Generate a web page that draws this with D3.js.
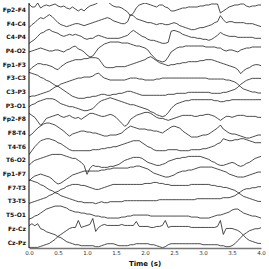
<!DOCTYPE html>
<html>
<head>
<meta charset="utf-8">
<script src="https://cdn.jsdelivr.net/npm/d3@7"></script>
<style>
  body { margin: 0; background: #fff; }
  svg { display: block; }
</style>
</head>
<body>
<div id="chart"></div>
<script>
// channel names, top to bottom
const channels = ["Fp2-F4", "F4-C4", "C4-P4", "P4-O2", "Fp1-F3", "F3-C3", "C3-P3", "P3-O1",
    "Fp2-F8", "F8-T4", "T4-T6", "T6-O2", "Fp1-F7", "F7-T3", "T3-T5", "T5-O1", "Fz-Cz", "Cz-Pz"];

// sample times (s), every 0.05 s
const times = d3.range(0, 81).map(i => +(i * 0.05).toFixed(2));

const xTicks = [0, 0.5, 1, 1.5, 2, 2.5, 3, 3.5, 4];

// amplitudes, positive = up
const fp2f4 = [6,3,3,7,2,4,5,4,5,6, 4,3,4,2,1,3,1,-1,1,-1, 2,4,5,6,8,11,12,9,6,4, 3,3,2,0,-2,-6,-3,2,5,6,
    7,6,5,4,3,5,5,3,2,-1, -1,0,1,2,2,3,3,3,3,4, 4,5,5,6,6,6,-3,-1,1,3, 4,5,5,6,6,4,3,4,4,5, 5];
const f4c4 = [-4,-1,1,4,6,5,7,9,7,4, 1,-1,-2,-3,-2,-1,0,0,-1,-2, -1,0,1,2,3,4,5,6,5,3, 2,1,0,0,2,9,8,5,4,3,
    2,1,1,0,-1,0,0,-1,-1,0, 1,0,-2,-3,-4,-5,-6,-6,-5,-4, -4,-3,-2,-1,1,2,8,4,1,2, 2,1,1,1,1,0,0,0,-1,-2, -3];
const c4p4 = [-6,-4,-2,1,4,5,7,8,6,5, 4,2,1,2,3,2,3,2,1,-1, -2,-1,-1,1,2,1,0,-1,-1,-1, -1,-1,0,1,2,5,7,5,3,1,
    0,-2,-3,-3,-4,-5,-6,-6,-5,6, 7,6,5,3,2,1,0,0,-1,-1, -2,-2,-3,-2,0,2,5,3,2,1, 1,1,0,0,0,0,0,0,-1,-1, -1];
const p4o2 = [-1,0,1,2,3,2,1,0,0,1, 1,0,-1,1,2,4,5,2,1,-1, -4,-6,-5,-1,3,5,7,8,9,9, 9,9,8,8,8,7,6,5,5,4,
    3,1,-3,-6,-9,-10,-11,-10,-6,-1, 1,3,4,4,5,5,5,5,5,5, 5,4,4,4,4,3,3,1,0,1, 1,0,-1,1,2,3,3,4,4,4, 4];
const fp1f3 = [-6,-3,-1,1,1,0,0,-1,-2,-4, -5,-2,0,2,3,4,5,5,5,6, 6,7,7,7,6,2,-2,-3,-3,-3, -2,-2,-2,-2,-1,0,1,2,3,4,
    5,7,8,6,4,2,1,0,-1,0, 0,1,1,2,2,3,3,3,3,4, 4,5,5,5,4,3,2,1,0,-1, -2,-3,-5,-9,-6,-4,-3,-1,0,0, -1];
const f3c3 = [6,5,4,3,1,0,-2,-3,-5,-7, -8,-10,-12,-14,-16,-18,-19,-20,-20,-20, -19,-19,-18,-18,-17,-16,-16,-17,-17,-16,
    -16,-15,-15,-14,-13,-13,-14,-15,-16,-17, -17,-17,-17,-17,-17,-17,-17,-17,-16,-16, -16,-15,-15,-15,-15,-14,-14,-14,-14,-14,
    -14,-14,-14,-15,-15,-15,-15,-14,-14,-13, -12,-11,-9,-6,-4,-2,-1,0,0,0, 0];
const c3p3 = [-5,-4,-4,-3,-2,-1,0,1,3,5, 6,8,9,10,11,12,13,14,14,15, 15,15,16,18,19,16,14,13,12,12, 12,12,12,12,13,14,14,14,13,13,
    12,12,12,12,13,13,14,14,14,14, 14,14,14,14,14,14,14,14,14,14, 14,14,13,13,13,13,13,13,12,12, 11,10,8,5,3,2,1,0,0,-1, -1];
const p3o1 = [-1,1,2,4,5,6,7,7,7,6, 4,2,1,0,-1,-1,-2,-3,-4,-5, -5,-4,-3,0,3,5,6,7,8,7, 6,5,4,3,2,1,1,0,-1,-2,
    -3,-4,-6,-7,-9,-10,-11,-10,-7,-3, 0,2,3,4,5,5,6,6,6,6, 6,6,6,6,5,5,4,4,5,5, 6,6,6,6,6,6,6,6,6,6, 6];
const fp2f8 = [6,4,2,-2,-6,-3,1,2,3,4, 5,3,2,3,4,2,1,2,0,2, 4,6,6,5,4,3,3,4,5,4, 2,-1,-4,-7,-5,0,2,4,5,6,
    7,7,6,4,2,1,1,0,-1,0, 1,2,3,4,4,4,4,3,3,4, 4,5,5,4,3,1,-1,1,3,3, 2,3,4,4,4,3,3,3,3,2, 2];
const f8t4 = [-3,-1,2,5,7,9,10,10,9,8, 6,4,2,-1,-3,-1,0,1,2,2, 1,1,0,0,-1,-2,-3,-3,-2,-2, -2,-1,0,3,5,7,6,5,4,4,
    4,3,3,2,2,1,0,2,4,6, 7,6,5,2,0,-2,-4,-4,-4,-3, -2,-2,-1,1,3,5,8,4,2,0, -1,-1,-2,-3,-4,-5,-5,-4,-3,-2, -2];
const t4t6 = [-8,-4,0,3,6,7,8,8,7,6, 4,3,1,-1,-3,-4,-4,-4,-4,-4, -4,-4,-3,-3,-3,-2,-2,-1,-1,0, 0,1,2,3,4,5,6,6,6,4,
    2,0,-1,-3,-4,-4,-4,-4,-3,-3, -3,-3,-4,-4,-4,-4,-3,-3,-3,-3, -2,-2,-1,0,1,3,4,8,7,6, 6,7,7,8,8,7,6,5,4,4, 4];
const t6o2 = [-5,-2,0,1,2,3,4,5,6,6, 6,6,5,4,3,2,2,0,-2,-5, -14,-8,-5,-6,-6,-7,-7,-7,-6,-6, -5,-4,-2,0,1,2,3,3,3,2,
    0,-2,-3,-4,-5,-5,-4,-3,-1,0, 1,2,2,3,3,4,4,4,4,4, 3,2,1,-1,-2,-4,-5,-5,-4,-3, -2,-3,-5,-6,-5,-3,-2,0,2,3, 4];
const fp1f7 = [-7,-4,-2,-1,0,-1,-2,-3,-5,-8, -10,-9,-7,-5,-3,-1,0,1,2,3, 3,3,3,3,3,4,4,5,5,6, 6,6,6,6,6,7,7,8,8,7,
    6,5,3,1,0,-1,-2,-3,-3,-2, -1,1,2,3,3,4,4,5,6,7, 7,7,7,7,6,5,4,3,2,0, -1,-2,-3,-3,-3,-2,-1,0,1,2, 2];
const f7t3 = [8,7,6,5,3,2,0,-2,-3,-5, -6,-8,-9,-10,-11,-12,-13,-14,-14,-15, -15,-15,-15,-16,-15,-14,-15,-15,-14,-14,
    -14,-14,-14,-13,-13,-13,-13,-13,-13,-13, -13,-13,-13,-13,-13,-12,-12,-12,-12,-12, -12,-12,-12,-12,-12,-12,-12,-12,-11,-11,
    -11,-11,-11,-11,-11,-11,-11,-10,-10,-10, -9,-8,-6,-4,-2,-1,-1,0,0,1, 1];
const t3t5 = [-2,-1,0,1,2,3,4,6,7,9, 10,12,13,15,16,17,17,17,16,16, 15,14,13,12,12,13,14,15,16,17, 17,17,17,17,17,17,17,17,17,17,
    18,18,18,19,19,18,18,17,17,16, 16,16,16,16,16,16,17,17,17,17, 17,17,17,16,16,15,15,14,14,13, 12,11,9,7,5,4,3,2,1,0, 0];
const t5o1 = [-4,-3,-1,0,2,4,6,7,8,9, 9,9,8,7,5,4,3,3,2,2, 1,1,0,-1,-1,-2,-2,-3,-3,-3, -3,-3,-2,-2,-1,-1,0,0,0,0,
    0,0,-1,-1,-1,-1,-1,-1,-1,-1, -1,-1,-1,-1,-1,-1,-2,-2,-2,-3, -3,-3,-3,-2,-1,0,0,1,2,3, 5,6,6,4,2,1,0,-1,-1,-2, -3];
const fzcz = [3,5,3,5,0,-1,-3,-4,-5,-6, -8,-9,-11,-13,-14,-15,-16,-16,-17,-17, -17,-17,-17,-18,-18,-17,-16,-15,-15,-15,
    -16,-17,-17,-17,-17,-16,-16,-15,-15,-15, -15,-15,-16,-16,-17,-18,-19,-18,-16,-15, -15,-15,-15,-15,-15,-15,-15,-15,-15,-15,
    -16,-16,-16,-16,-16,-16,-17,-17,-18,-18, -17,-15,-12,-9,-6,-4,-2,-1,0,0, 1];
const czpz = [-5,-5,-5,-5,-4,-3,-2,-1,1,3, 6,8,10,12,14,15,15,22,15,16, 17,18,24,11,15,17,18,17,17,17, 17,17,18,17,17,17,17,21,16,16,
    16,16,15,15,16,16,17,22,15,16, 16,16,16,16,16,16,15,15,15,15, 15,15,15,15,15,16,22,8,14,14, 14,13,12,10,7,4,2,1,0,-1, -1];

const signals = [fp2f4, f4c4, c4p4, p4o2, fp1f3, f3c3, c3p3, p3o1,
    fp2f8, f8t4, t4t6, t6o2, fp1f7, f7t3, t3t5, t5o1, fzcz, czpz];

const spacing = 13.7; // vertical offset between channels

const W = 269, H = 269;
const margin = { top: 3, right: 8, bottom: 21, left: 29 };
const width = W - margin.left - margin.right;
const height = H - margin.top - margin.bottom;

const svg = d3.select("#chart").append("svg")
    .attr("width", W)
    .attr("height", H);

const g = svg.append("g").attr("transform", `translate(${margin.left},${margin.top})`);

const x = d3.scaleLinear().domain([0, 4]).range([0, width]);
// offset units grow downward; channel i sits at i*spacing
const y = d3.scaleLinear().domain([-7, 17 * spacing + 5.6]).range([0, height]);

g.append("clipPath").attr("id", "plot-clip")
    .append("rect").attr("width", width).attr("height", height);

const line = d3.line()
    .x(d => x(d.t))
    .y(d => y(d.off - d.v));

g.append("g")
    .attr("clip-path", "url(#plot-clip)")
    .selectAll("path")
    .data(signals)
    .enter().append("path")
    .attr("fill", "none")
    .attr("stroke", "#1e1e1e")
    .attr("stroke-width", 0.8)
    .attr("stroke-linejoin", "round")
    .attr("d", (s, i) => line(s.map((v, k) => ({ t: times[k], v: v, off: i * spacing }))));

// channel labels
g.append("g")
    .selectAll("text")
    .data(channels)
    .enter().append("text")
    .attr("x", -3)
    .attr("y", (d, i) => y(i * spacing))
    .attr("dy", "0.35em")
    .attr("text-anchor", "end")
    .style("font-family", "DejaVu Sans")
    .style("font-weight", "bold")
    .style("font-size", "6px")
    .style("fill", "#111")
    .text(d => d);

// left spine
g.append("line")
    .attr("x1", 0).attr("x2", 0)
    .attr("y1", 0).attr("y2", height)
    .attr("stroke", "#000")
    .attr("stroke-width", 1);

// time axis
const xAxis = g.append("g")
    .attr("transform", `translate(0,${height})`)
    .call(d3.axisBottom(x).tickValues(xTicks).tickFormat(d3.format(".1f")).tickSize(0).tickPadding(3));
xAxis.select(".domain").attr("stroke", "#777").attr("stroke-width", 1.3);
xAxis.selectAll("text")
    .style("font-family", "DejaVu Sans")
    .style("font-size", "5.5px")
    .style("fill", "#333");

svg.append("text")
    .attr("x", margin.left + width / 2)
    .attr("y", 265.5)
    .attr("text-anchor", "middle")
    .style("font-family", "DejaVu Sans")
    .style("font-weight", "bold")
    .style("font-size", "7px")
    .style("fill", "#111")
    .text("Time (s)");
</script>
</body>
</html>
